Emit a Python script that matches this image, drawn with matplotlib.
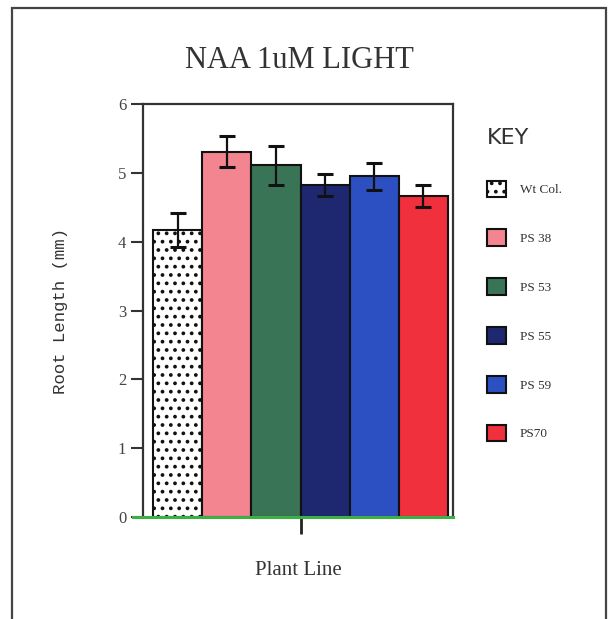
import matplotlib
matplotlib.use("Agg")
import matplotlib.pyplot as plt
from matplotlib.patches import Rectangle
import numpy as np

# ── Data ───────────────────────────────────────────────────
lines = ["Wt Col.", "PS 38", "PS 53", "PS 55", "PS 59", "PS70"]
root_length = [4.17, 5.31, 5.11, 4.83, 4.95, 4.67]
root_err = [0.25, 0.22, 0.28, 0.16, 0.20, 0.16]
colors = ["white", "#f2858f", "#3a7457", "#1d2870", "#2c50c2", "#f0303c"]
hatches = ["..", None, None, None, None, None]
yticks = [0, 1, 2, 3, 4, 5, 6]

SERIF = ["Liberation Serif", "DejaVu Serif"]
plt.rcParams["hatch.linewidth"] = 1.5

fig = plt.figure(figsize=(6.15, 6.19), dpi=100)
ax = fig.add_axes([0.2325, 0.1648, 0.504, 0.667])

x = np.arange(len(lines))
bars = ax.bar(x, root_length, width=1.0, color=colors, edgecolor="#111111",
              linewidth=1.5, label=lines)
for b, h in zip(bars, hatches):
    if h:
        b.set_hatch(h)
ax.errorbar(x, root_length, yerr=root_err, fmt="none", ecolor="#111111",
            elinewidth=1.6, capsize=6, capthick=2.2)

ax.set_xlim(-0.703, 5.60)
ax.set_ylim(0, 6)
ax.set_yticks(yticks)
ax.set_yticklabels([str(t) for t in yticks], family=SERIF, fontsize=12,
                   color="#444444")
ax.tick_params(axis="y", direction="out", length=9, width=1.5, color="#333333",
               pad=3)
ax.set_xticks([2.5])
ax.set_xticklabels([""])
ax.tick_params(axis="x", direction="out", length=12, width=2, color="#222222")

for side in ["left", "right", "top"]:
    ax.spines[side].set_linewidth(1.6)
    ax.spines[side].set_color("#333333")
ax.spines["bottom"].set_visible(False)
ax.axhline(0, xmin=-10 / 310, xmax=1.0, color="#3cb043", linewidth=2.2,
           clip_on=False, zorder=5)

ax.set_ylabel("Root Length (mm)", family=["Liberation Mono", "DejaVu Sans Mono"],
              fontsize=12.5, color="#333333", labelpad=36)
ax.set_xlabel("Plant Line", family=SERIF, fontsize=15, color="#333333",
              labelpad=16)
fig.text(0.4865, 0.903, "NAA 1uM LIGHT", family=SERIF, fontsize=22,
         color="#333333", ha="center", va="center")

leg = ax.legend(bars, lines, loc="upper left", bbox_to_anchor=(0.772, 0.812),
                bbox_transform=fig.transFigure, frameon=False, title="KEY",
                alignment="left", handlelength=1.5, handleheight=1.55,
                handletextpad=1.0, labelspacing=2.45,
                prop={"family": SERIF, "size": 9.5},
                title_fontproperties={"family": ["Liberation Sans Narrow", "DejaVu Sans"],
                                      "size": 16})
for t in leg.get_texts():
    t.set_color("#333333")
leg.get_title().set_color("#333333")

# outer frame around the whole chart
fig.patches.append(Rectangle((12 / 615, -0.05), 594 / 615, 1 - 8 / 619 + 0.05,
                             transform=fig.transFigure, fill=False,
                             edgecolor="#444444", linewidth=1.6))

fig.savefig("out.png", dpi=100)
